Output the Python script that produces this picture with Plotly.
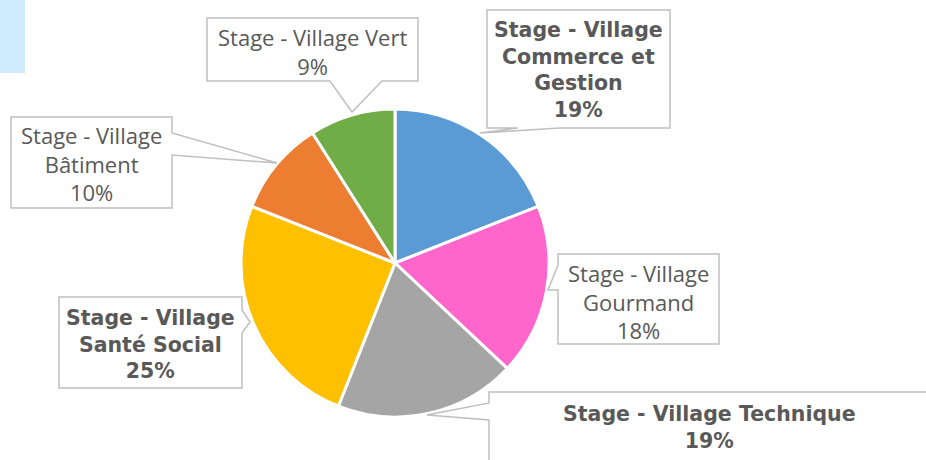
import plotly.graph_objects as go

# ---- data ----
labels = ["Stage - Village Commerce et Gestion", "Stage - Village Gourmand",
          "Stage - Village Technique", "Stage - Village Santé Social",
          "Stage - Village Bâtiment", "Stage - Village Vert"]
values = [19, 18, 19, 25, 10, 9]
colors = ["#5B9BD5", "#FF66CC", "#A5A5A5", "#FFC000", "#ED7D31", "#70AD47"]
label_lines = ["Stage - Village<br>Commerce et<br>Gestion", "Stage - Village<br>Gourmand",
               "Stage - Village Technique", "Stage - Village<br>Santé Social",
               "Stage - Village<br>Bâtiment", "Stage - Village Vert"]
bold = [True, False, True, True, False, False]

W, H = 926, 460
def px(x): return x / W
def py(y): return 1 - y / H

# label layout (pixel positions of callout boxes and text centres)
callouts = [
    [(487, 10), (670, 10), (670, 128), (560, 128), (480, 133), (518, 128), (487, 128)],
    [(558, 254), (719, 254), (719, 344), (558, 344), (558, 290), (548, 290), (558, 265)],
    [(489, 392), (935, 392), (935, 470), (489, 470), (489, 420), (427, 415), (489, 403)],
    [(59, 297), (242, 297), (242, 310), (250, 322), (242, 333), (242, 388), (59, 388)],
    [(11, 117), (172, 117), (172, 133), (277, 163), (172, 155), (172, 208), (11, 208)],
    [(207, 18), (418, 18), (418, 81), (382, 81), (352, 112), (330, 81), (207, 81)],
]
text_pos = [(578, 70), (638, 301), (709, 427), (150, 344), (91, 163), (312, 51)]

total = sum(values)

fig = go.Figure(go.Pie(
    labels=labels, values=values, sort=False, direction="clockwise", rotation=0,
    marker=dict(colors=colors, line=dict(color="white", width=3)),
    textinfo="none", hoverinfo="label+percent",
    domain=dict(x=[241 / W, 549 / W], y=[py(417), py(109)]),
))

shapes = [dict(type="rect", xref="paper", yref="paper", x0=px(0), x1=px(25), y0=py(73), y1=py(0),
               fillcolor="#CDEBFD", line=dict(width=0), layer="below")]
for pts in callouts:
    path = "M " + " L ".join(f"{px(x):.5f},{py(y):.5f}" for x, y in pts) + " Z"
    shapes.append(dict(type="path", xref="paper", yref="paper", path=path,
                       fillcolor="white", line=dict(color="#BFBFBF", width=1.5)))

annotations = []
for lab, v, b, (tx, ty) in zip(label_lines, values, bold, text_pos):
    txt = f"{lab}<br>{v / total * 100:.0f}%"
    if b:
        txt = "<b>" + txt.replace("<br>", "</b><br><b>") + "</b>"
        font = dict(family="DejaVu Sans", size=20.5, color="#595959")
    else:
        font = dict(family="Open Sans", size=22, color="#595959")
    annotations.append(dict(x=px(tx), y=py(ty), xref="paper", yref="paper", text=txt,
                            showarrow=False, xanchor="center", yanchor="middle", align="center",
                            font=font))

fig.update_layout(width=W, height=H, margin=dict(l=0, r=0, t=0, b=0),
                  paper_bgcolor="white", plot_bgcolor="white", showlegend=False,
                  shapes=shapes, annotations=annotations)
fig.write_html("out.html", config={"displayModeBar": False},
               post_script="document.body.style.margin='0';")
